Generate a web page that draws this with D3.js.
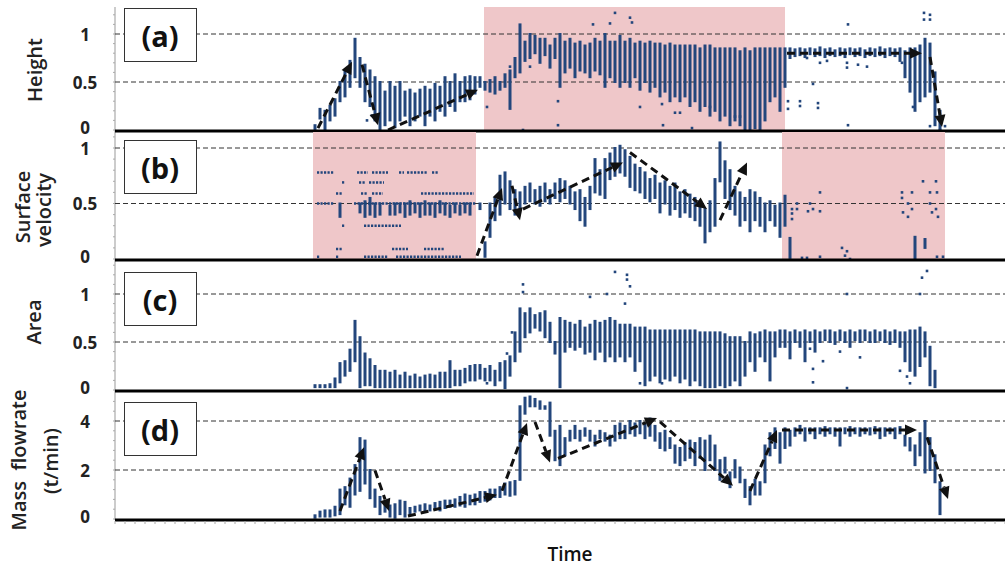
<!DOCTYPE html>
<html>
<head>
<meta charset="utf-8">
<script src="https://cdn.jsdelivr.net/npm/d3@7"></script>
<style>
  body { margin: 0; background: #fff; }
  svg { display: block; }
</style>
</head>
<body>
<div id="chart"></div>
<script>
// time steps start at T0, one range [lo, hi] per step (null = no data)
const T0 = 40;

const heightRange = [
  [0,.05],[.12,.22],[0,.2],[.1,.25],[.15,.32],[.3,.5],[.35,.62],[.45,.72],[.55,.95],[.45,.75],
  [.3,.68],[.25,.62],[.1,.55],[0,.5],[.05,.4],[.1,.5],[.03,.45],[.1,.5],[.15,.4],[.05,.42],
  [.1,.38],[.15,.42],[.05,.45],[.15,.42],[.1,.48],[.2,.45],[.15,.55],[.25,.5],[.2,.58],[.3,.5],
  [.3,.55],[.32,.56],[.38,.55],[.45,.55],[.42,.5],[.4,.52],[.38,.55],[.42,.5],[.45,.58],[.22,.62],
  [.55,.75],[.6,1.1],[.72,.92],[.75,1],[.8,.98],[.7,.95],[.78,.95],[.65,.88],[.75,.95],[.45,1],
  [.6,.92],[.65,.95],[.55,.9],[.62,.92],[.6,.88],[.55,.9],[.62,.95],[.58,.92],[.45,1],[.55,.92],
  [.5,.92],[.45,.98],[.5,.92],[.45,.95],[.55,.9],[.42,.92],[.5,.9],[.4,.92],[.45,.9],[.35,.9],
  [.4,.88],[.3,.9],[.35,.88],[.3,.88],[.35,.88],[.25,.88],[.3,.88],[.2,.85],[.25,.88],[.15,.88],
  [.2,.85],[.1,.85],[.15,.85],[.05,.85],[.1,.85],[.05,.82],[0,.85],[0,.82],[.02,.85],[0,.85],
  [.1,.85],[.3,.85],[.35,.85],[.2,.85],[.45,.85],[.75,.85],[.77,.84],[.78,.85],[.76,.84],[.79,.85],
  [.77,.84],[.78,.86],[.76,.84],[.78,.85],[.77,.83],[.78,.85],[.76,.84],[.79,.85],[.77,.84],[.78,.85],
  [.76,.83],[.78,.85],[.77,.84],[.78,.86],[.76,.84],[.78,.85],[.77,.84],[.72,.85],[.55,.82],[.4,.85],
  [.2,.85],[.3,.88],[.35,.95],[.4,.9],[.05,.6],[0,.2],null
];

const velocityRange = [
  null,null,null,null,null,[.38,.5],null,null,null,[.42,.5],
  [.38,.52],[.4,.55],[.38,.5],[.4,.5],null,[.4,.48],[.4,.5],[.42,.5],[.38,.5],[.4,.52],
  [.42,.5],[.38,.5],[.4,.52],[.4,.5],[.38,.5],[.42,.52],[.4,.5],[.38,.48],[.42,.5],[.4,.48],
  [.42,.5],[.4,.5],null,[.45,.5],[.02,.15],[.2,.5],[.35,.55],[.4,.75],[.5,.78],[.45,.7],
  [.4,.62],[.45,.6],[.5,.65],[.52,.68],[.5,.62],[.48,.65],[.52,.68],[.5,.62],[.55,.68],[.52,.72],
  [.55,.7],[.5,.65],[.45,.6],[.35,.62],[.3,.55],[.45,.65],[.6,.9],[.58,.8],[.55,.9],[.72,.95],
  [.75,1],[.78,1.02],[.75,.98],[.65,.92],[.62,.85],[.6,.82],[.55,.78],[.52,.72],[.55,.75],[.42,.68],
  [.5,.7],[.4,.65],[.45,.68],[.38,.6],[.42,.62],[.38,.58],[.35,.55],[.3,.52],[.15,.45],[.25,.52],
  [.3,.72],[.7,1.05],[.55,.88],[.45,.8],[.4,.65],[.3,.6],[.35,.55],[.25,.62],[.35,.6],[.3,.55],
  [.25,.5],[.35,.52],[.3,.48],[.2,.5],[.3,.57],[.01,.19],null,null,null,null,
  null,null,null,null,null,null,null,null,null,null,
  null,null,null,null,null,null,null,null,null,null,
  [0,.2],null,[.1,.18],null,null,null,null
];

const areaRange = [
  [.03,.05],[.03,.05],[.03,.05],[.03,.06],[.03,.12],[.08,.28],[.15,.3],[.2,.42],[.3,.72],[.03,.55],
  [.05,.38],[.05,.32],[.03,.25],[.03,.2],[.03,.2],[.03,.18],[.03,.2],[.03,.15],[.03,.18],[.03,.14],
  [.03,.16],[.03,.13],[.03,.15],[.03,.16],[.03,.15],[.03,.18],[.03,.18],[.03,.3],[.05,.2],[.05,.2],
  [.08,.22],[.1,.25],[.1,.26],[.12,.26],[.1,.22],[.1,.25],[.05,.2],[.1,.28],[.02,.3],[.15,.35],
  [.3,.6],[.4,.85],[.55,.8],[.6,.85],[.65,.78],[.62,.8],[.55,.82],[.5,.7],[.38,.5],[.03,.75],
  [.4,.72],[.45,.7],[.42,.68],[.45,.72],[.38,.65],[.4,.68],[.32,.72],[.4,.7],[.3,.72],[.35,.75],
  [.3,.72],[.35,.68],[.3,.68],[.35,.68],[.2,.65],[.3,.65],[.05,.65],[.1,.62],[.15,.62],[.08,.62],
  [.12,.62],[.1,.62],[.15,.62],[.08,.62],[.12,.62],[.05,.62],[.1,.62],[.05,.6],[.03,.6],[.03,.6],
  [.03,.6],[.05,.6],[.03,.58],[.05,.55],[.1,.55],[.05,.55],[.15,.5],[.3,.6],[.2,.58],[.35,.6],
  [.3,.62],[.1,.6],[.35,.6],[.45,.62],[.45,.62],[.33,.6],[.5,.62],[.45,.6],[.3,.62],[.5,.6],
  [.4,.62],[.5,.6],[.52,.62],[.5,.62],[.48,.6],[.52,.62],[.5,.6],[.45,.62],[.52,.6],[.5,.62],
  [.52,.62],[.5,.6],[.5,.62],[.52,.6],[.5,.62],[.48,.6],[.5,.62],[.45,.6],[.3,.6],[.2,.62],
  [.15,.62],[.25,.65],[.35,.6],[.05,.45],[.03,.2],null,null
];

const flowRange = [
  [.05,.15],[.1,.3],[.1,.35],[.1,.35],[.15,.5],[.2,1.2],[.6,1.3],[.5,1.65],[1,2.2],[1.15,3.3],
  [1.45,3.2],[.85,2],[.5,1.2],[.2,.9],[.3,.6],[.1,.55],[.05,.6],[.2,.75],[.1,.7],[.2,.45],
  [.3,.5],[.35,.55],[.3,.6],[.35,.55],[.4,.65],[.35,.7],[.45,.75],[.5,.75],[.5,.8],[.55,.9],
  [.5,1],[.6,.95],[.6,1],[.7,1.1],[.75,1.1],[.8,1.2],[.9,1.2],[.9,1.3],[1,1.45],[.95,1.5],
  [1,1.55],[1.6,4.6],[4.3,4.95],[4.6,5],[4.6,4.9],[4.5,4.8],[4.5,4.6],[3.4,4.75],[2.4,3.6],[2.2,3.8],
  [2.6,3.3],[3.2,3.6],[3.3,3.8],[3.2,3.6],[3.4,3.7],[3.2,3.6],[3,3.4],[3.3,3.6],[3.2,3.5],[3,3.4],
  [3.2,3.8],[3.3,3.9],[3.3,3.8],[3.5,4],[3.4,3.9],[3.5,4],[3.3,3.9],[3.4,4.1],[3.2,3.8],[2.9,3.5],
  [2.8,3.6],[2.9,3.3],[2.3,3],[2.2,2.9],[2.4,3.1],[2.5,3.2],[2.2,3.1],[2.5,3.3],[2,3.2],[2.4,3.4],
  [2,3],[1.6,2.4],[1.9,2.5],[1.3,1.9],[1.7,2.4],[1.5,2.1],[.9,1.6],[.6,1.3],[1,1.6],[1,1.5],
  [1.5,3],[2.6,3.5],[2.9,3.7],[2.3,3.5],[2.9,3.7],[3,3.6],[3.4,3.7],[3.5,3.8],[3.2,3.7],[3.5,3.7],
  [3.3,3.7],[3.5,3.7],[3.4,3.75],[3.5,3.7],[3.4,3.7],[3,3.7],[3.5,3.7],[3.4,3.75],[3.5,3.7],[3.4,3.7],
  [3.5,3.7],[3.45,3.7],[3.5,3.75],[3.3,3.7],[3.4,3.7],[3.5,3.7],[3.3,3.7],[3.5,3.75],[3,3.4],[2.8,3.3],
  [2.2,3],[2.6,3.5],[1.9,4],[2,3.3],[1.5,2.6],[.2,1.5],null
];

// scattered single points [t, value]
const heightDots = [
  [50.4,.1],[51.4,.15],[74.4,.24],[79,.66],[81.6,0],[83,.66],[88.6,.3],[88.6,.05],[95.6,1.1],[99,1.11],
  [100,1.22],[103,1.17],[103.4,1.12],[105,.24],[109.4,.27],[109.6,.05],[112,.18],[113,.18],[115.4,.02],
  [119,.24],[124,.14],[125,.14],[134.6,.3],[134.6,.22],[137,.3],[137,.25],[138.4,.75],[139.6,.48],
  [140.6,.23],[140.6,.28],[141,.7],[142.4,.72],[146.4,.7],[146.4,.65],[146.6,1.1],[146.6,.05],
  [148.6,.68],[150.4,.66],[157.4,.7],[159.6,.24],[161.8,1.15],[161.8,1.22],[163,1.2],[163,1.15],
  [163,.04],[165,0],[166,.04]
];
const velocityDots = [
  [135.4,.36],[135.4,.41],[135.4,.45],[136.4,.45],[136.4,.5],[137.4,.01],[138.4,.01],[138.6,.43],
  [139,.5],[139.6,.45],[141,.6],[141,.43],[141,.02],[145.4,.1],[146,.03],[146.4,.07],[147,0],
  [157.4,.55],[157.4,.6],[157.6,.42],[158.6,.5],[158.6,.38],[159.4,.6],[159.4,.45],[161.6,.7],
  [163,.5],[163,.6],[163.4,.42],[164.2,.7],[164.2,.45],[164.4,.6],[164.6,.38],[164.4,.02],[165.6,.02]
];
const areaDots = [
  [74.4,.07],[78.4,.38],[79.4,.6],[81.6,1.02],[81.6,1.1],[95,.97],[98.4,1],[100,1.23],[102.4,1.15],
  [102.4,1.2],[103,1.08],[102,.9],[105,.07],[109.4,.07],[139,.43],[139.6,.22],[139.6,.08],[141.6,.3],
  [145,.4],[146.4,.02],[149,.34],[146.4,1],[157,.2],[158.4,.14],[159,.07],[161,1],[161.4,1.17],[162.4,1.24]
];
// runs of closely spaced points [value, tStart, tEnd]
const velocityRuns = [
  [.78,40.6,43.6],[.78,48.6,50.4],[.78,51.6,54.4],[.78,57,57.6],[.78,58.6,62.4],[.78,63.6,64.4],
  [.69,45.6,45.8],[.69,49,50],[.69,51,53.6],
  [.59,44.4,45.4],[.59,49.4,50.4],[.59,51.6,53.4],[.59,61.4,71.6],
  [.5,40.6,43.6],[.5,48,72],
  [.3,45.6,45.8],[.3,50,57],
  [.09,44.4,45.4],[.09,55.6,58.4],[.09,62,65.6],
  [.02,40.6,40.8],[.02,44.4,44.6],[.02,50,54.4],[.02,56.4,69]
];

// trend arrows [[tFrom, vFrom], [tTo, vTo]]
const heightArrows = [
  [[40.6,.02],[47.4,.71]], [[49.4,.68],[52.6,.05]], [[54.6,0],[72.6,.42]],
  [[134.4,.8],[161.4,.8]], [[163,.76],[165.4,.03]]
];
const velocityArrows = [
  [[72.4,.03],[77.4,.64]], [[79.4,.66],[81,.35]], [[81.6,.45],[101.6,.87]],
  [[103,.96],[118.4,.45]], [[121,.35],[126.4,.87]]
];
const flowArrows = [
  [[45,.33],[49.8,2.93]], [[52,1.98],[54.8,.33]], [[58.6,.12],[76.4,.99]],
  [[77.4,1.15],[82.4,3.92]], [[84,3.96],[87,2.31]], [[88.6,2.47],[108.4,4.12]],
  [[109,3.96],[123.6,1.36]], [[127,1.15],[132.4,3.63]], [[133.4,3.63],[160.4,3.63]],
  [[162.4,3.34],[166.6,.82]]
];

// shaded periods [tStart, tEnd]
const heightShade = [[73.8, 134]];
const velocityShade = [[39.6, 72.2], [133.4, 166]];

const W = 1005, H = 567;
const FONT = "'Open Sans', 'Noto Sans', sans-serif";
const BAR = '#23467c';

const svg = d3.select('#chart')
  .append('svg')
  .attr('width', W)
  .attr('height', H)
  .style('font-family', FONT);

const x = d3.scaleLinear().domain([0, 178]).range([115, 1005]);

const panels = [
  { label: '(a)', titles: [['Height', 34, 70]], range: heightRange, dots: heightDots, runs: [],
    arrows: heightArrows, shade: heightShade, ticks: [0, 0.5, 1], tickFmt: d3.format('~g'),
    y: d3.scaleLinear().domain([0, 1]).range([130, 34]), top: 7, box: 8 },
  { label: '(b)', titles: [['Surface', 22, 207], ['velocity', 43, 210]], range: velocityRange,
    dots: velocityDots, runs: velocityRuns, arrows: velocityArrows, shade: velocityShade,
    ticks: [0, 0.5, 1], tickFmt: d3.format('~g'),
    y: d3.scaleLinear().domain([0, 1]).range([259, 148]), top: 132, box: 140 },
  { label: '(c)', titles: [['Area', 33, 322]], range: areaRange, dots: areaDots, runs: [],
    arrows: [], shade: [], ticks: [0, 0.5, 1], tickFmt: d3.format('~g'),
    y: d3.scaleLinear().domain([0, 1]).range([390, 294]), top: 262, box: 272 },
  { label: '(d)', titles: [['Mass  flowrate', 18, 460], ['(t/min)', 50, 461]], range: flowRange,
    dots: [], runs: [], arrows: flowArrows, shade: [], ticks: [0, 2, 4],
    tickFmt: d3.format('d'),
    y: d3.scaleLinear().domain([0, 4]).range([519, 421]), top: 392, box: 402 }
];

// left axis line
svg.append('line')
  .attr('x1', x(0)).attr('x2', x(0))
  .attr('y1', 7).attr('y2', 520)
  .style('stroke', '#999')
  .style('stroke-width', 1);

panels.forEach(p => {
  const g = svg.append('g');
  const y0 = p.y(0);

  // shaded periods
  p.shade.forEach(s => {
    g.append('rect')
      .attr('x', x(s[0]))
      .attr('y', p.top)
      .attr('width', x(s[1]) - x(s[0]))
      .attr('height', y0 - p.top)
      .style('fill', '#efc7c9');
  });

  // dashed gridlines
  p.ticks.filter(d => d > 0).forEach(d => {
    g.append('line')
      .attr('x1', x(0)).attr('x2', W)
      .attr('y1', p.y(d)).attr('y2', p.y(d))
      .style('stroke', '#333')
      .style('stroke-width', 1)
      .style('stroke-dasharray', '5,3');
  });

  // faint minor ticks on left axis
  const yTop = p.y.invert(p.top);
  d3.range(0, yTop, p.ticks[1] / 5).forEach(d => {
    g.append('line')
      .attr('x1', x(0) - 2).attr('x2', x(0))
      .attr('y1', p.y(d)).attr('y2', p.y(d))
      .style('stroke', '#aaa');
  });

  // tick labels
  p.ticks.forEach(d => {
    g.append('text')
      .attr('x', 85)
      .attr('y', p.y(d) - (d === 0 ? 3 : 0))
      .attr('text-anchor', 'middle')
      .attr('dominant-baseline', 'central')
      .style('font-size', '17px')
      .style('font-weight', 700)
      .style('fill', '#222')
      .text(p.tickFmt(d));
  });

  // value ranges per time step
  p.range.forEach((r, i) => {
    if (r === null) return;
    const t = T0 + i;
    const yHi = p.y(r[1]);
    const yLo = p.y(r[0]);
    g.append('rect')
      .attr('x', x(t) - 1.5)
      .attr('y', yHi - 1)
      .attr('width', 3)
      .attr('height', Math.max(yLo - yHi, 0) + 2)
      .style('fill', BAR);
  });

  // runs of points
  p.runs.forEach(r => {
    g.append('line')
      .attr('x1', x(r[1]) - 1).attr('x2', x(r[2]) + 1)
      .attr('y1', p.y(r[0])).attr('y2', p.y(r[0]))
      .style('stroke', BAR)
      .style('stroke-width', 2.5)
      .style('stroke-dasharray', '2.2,1.3');
  });

  // single points
  p.dots.forEach(d => {
    g.append('rect')
      .attr('x', x(d[0]) - 1.3)
      .attr('y', p.y(d[1]) - 1.3)
      .attr('width', 2.6)
      .attr('height', 2.6)
      .style('fill', BAR);
  });

  // arrows
  p.arrows.forEach(a => {
    const sx = x(a[0][0]), sy = p.y(a[0][1]);
    const ex = x(a[1][0]), ey = p.y(a[1][1]);
    const len = Math.hypot(ex - sx, ey - sy);
    const ux = (ex - sx) / len, uy = (ey - sy) / len;
    const headLen = 12, headW = 5.5;
    const bx = ex - ux * headLen, by = ey - uy * headLen;
    g.append('line')
      .attr('x1', sx).attr('y1', sy)
      .attr('x2', bx).attr('y2', by)
      .style('stroke', '#111')
      .style('stroke-width', 3)
      .style('stroke-dasharray', '8,5');
    g.append('path')
      .attr('d', `M${ex},${ey}L${bx - uy * headW},${by + ux * headW}L${bx + uy * headW},${by - ux * headW}Z`)
      .style('fill', '#111');
  });

  // thick baseline
  g.append('line')
    .attr('x1', x(0)).attr('x2', W)
    .attr('y1', y0 + 1).attr('y2', y0 + 1)
    .style('stroke', '#000')
    .style('stroke-width', 3);

  // panel label box
  g.append('rect')
    .attr('x', 124.5)
    .attr('y', p.box + 0.5)
    .attr('width', 72)
    .attr('height', 53)
    .style('fill', '#fff')
    .style('stroke', '#333')
    .style('stroke-width', 1);

  g.append('text')
    .attr('x', 160)
    .attr('y', p.box + 27)
    .attr('text-anchor', 'middle')
    .attr('dominant-baseline', 'central')
    .style('font-size', '29px')
    .style('font-weight', 700)
    .style('fill', '#111')
    .text(p.label);

  // y titles
  p.titles.forEach(tt => {
    g.append('text')
      .attr('transform', `translate(${tt[1]},${tt[2]}) rotate(-90)`)
      .attr('text-anchor', 'middle')
      .attr('dominant-baseline', 'central')
      .style('font-size', '20px')
      .style('font-weight', 600)
      .style('fill', '#222')
      .style('white-space', 'pre')
      .text(tt[0]);
  });
});

// small ticks along time axis
const xTicks = d3.range(0, 179, 2);
svg.append('g')
  .selectAll('line')
  .data(xTicks)
  .join('line')
  .attr('x1', d => x(d)).attr('x2', d => x(d))
  .attr('y1', 521).attr('y2', 524)
  .style('stroke', '#aaa');

svg.append('text')
  .attr('x', 570)
  .attr('y', 561)
  .attr('text-anchor', 'middle')
  .style('font-size', '19px')
  .style('font-weight', 600)
  .style('fill', '#111')
  .text('Time');
</script>
</body>
</html>
